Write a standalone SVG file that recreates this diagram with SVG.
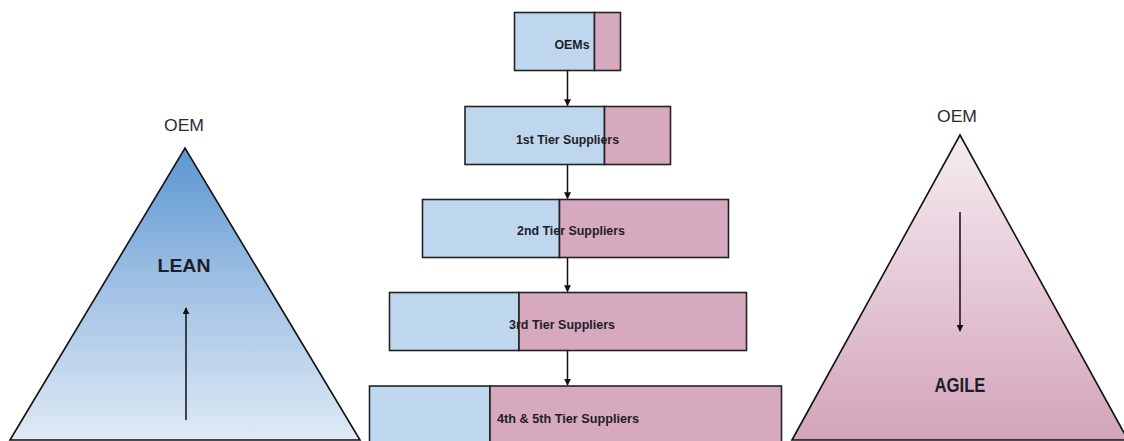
<svg xmlns="http://www.w3.org/2000/svg" width="1124" height="441" viewBox="0 0 1124 441">
<defs>
<linearGradient id="gLean" x1="0" y1="0" x2="0" y2="1">
<stop offset="0" stop-color="#5a96d2"/>
<stop offset="0.45" stop-color="#9dbfe3"/>
<stop offset="1" stop-color="#dfeaf6"/>
</linearGradient>
<linearGradient id="gAgile" x1="0" y1="0" x2="0" y2="1">
<stop offset="0" stop-color="#f6ecf1"/>
<stop offset="1" stop-color="#d3a4ba"/>
</linearGradient>
<marker id="ah" viewBox="0 0 10 10" refX="9" refY="5" markerWidth="7" markerHeight="7" markerUnits="userSpaceOnUse" orient="auto">
<path d="M0,0 L10,5 L0,10 Z" fill="#111"/>
</marker>
</defs>
<style>
.blue{fill:#bfd7ee;stroke:#222;stroke-width:1.6}
.pink{fill:#d7a9be;stroke:#222;stroke-width:1.6}
.lbl{font-family:"Liberation Sans",Arial,sans-serif;font-weight:bold;font-size:12px;fill:#1e1e28;text-anchor:middle;dominant-baseline:central}
.big{font-family:"Liberation Sans",Arial,sans-serif;font-weight:bold;fill:#1e1e28;text-anchor:middle;dominant-baseline:central}
.oem{font-family:"Liberation Sans",Arial,sans-serif;font-size:16px;fill:#2a2a33;text-anchor:middle;dominant-baseline:central}
.conn{stroke:#111;stroke-width:1.5;fill:none;marker-end:url(#ah)}
.tri{stroke:#111;stroke-width:1.6}
</style>
<rect width="1124" height="441" fill="#fff"/>

<g id="lean">
<polygon class="tri" points="10,440 185,148 360,440" fill="url(#gLean)"/>
<text class="oem" x="184" y="125" textLength="40" lengthAdjust="spacingAndGlyphs">OEM</text>
<text class="big" x="184" y="265" font-size="19" textLength="53" lengthAdjust="spacingAndGlyphs">LEAN</text>
</g>

<g id="agile">
<polygon class="tri" points="792,440 960,135 1128,440" fill="url(#gAgile)"/>
<text class="oem" x="957" y="116" textLength="40" lengthAdjust="spacingAndGlyphs">OEM</text>
<text class="big" x="960" y="385" font-size="20" textLength="51" lengthAdjust="spacingAndGlyphs">AGILE</text>
</g>

<g id="oems">
<rect class="blue" x="514.5" y="12.5" width="80" height="58"/>
<rect class="pink" x="594.5" y="12.5" width="26" height="58"/>
<text class="lbl" x="572" y="45" textLength="35" lengthAdjust="spacingAndGlyphs">OEMs</text>
</g>

<g id="tier1">
<rect class="blue" x="465" y="106.5" width="139.5" height="58"/>
<rect class="pink" x="604.5" y="106.5" width="66" height="58"/>
<text class="lbl" x="567.5" y="140" textLength="103" lengthAdjust="spacingAndGlyphs">1st Tier Suppliers</text>
</g>

<g id="tier2">
<rect class="blue" x="422.5" y="199.5" width="137" height="58"/>
<rect class="pink" x="559.5" y="199.5" width="169" height="58"/>
<text class="lbl" x="571" y="231" textLength="108" lengthAdjust="spacingAndGlyphs">2nd Tier Suppliers</text>
</g>

<g id="tier3">
<rect class="blue" x="389.5" y="292.5" width="129.5" height="58"/>
<rect class="pink" x="519" y="292.5" width="227.5" height="58"/>
<text class="lbl" x="562" y="325" textLength="106" lengthAdjust="spacingAndGlyphs">3rd Tier Suppliers</text>
</g>

<g id="tier45">
<rect class="blue" x="369.5" y="386" width="120.5" height="70"/>
<rect class="pink" x="490" y="386" width="291.5" height="70"/>
<text class="lbl" x="568" y="419" textLength="142" lengthAdjust="spacingAndGlyphs">4th &amp; 5th Tier Suppliers</text>
</g>

<g id="connectors">
<line class="conn" x1="567.5" y1="71" x2="567.5" y2="105.5"/>
<line class="conn" x1="567.5" y1="165" x2="567.5" y2="198.5"/>
<line class="conn" x1="567.5" y1="258" x2="567.5" y2="291.5"/>
<line class="conn" x1="567.5" y1="351" x2="567.5" y2="385"/>
<line class="conn" x1="186" y1="420" x2="186" y2="308"/>
<line class="conn" x1="960" y1="212" x2="960" y2="331"/>
</g>
</svg>
